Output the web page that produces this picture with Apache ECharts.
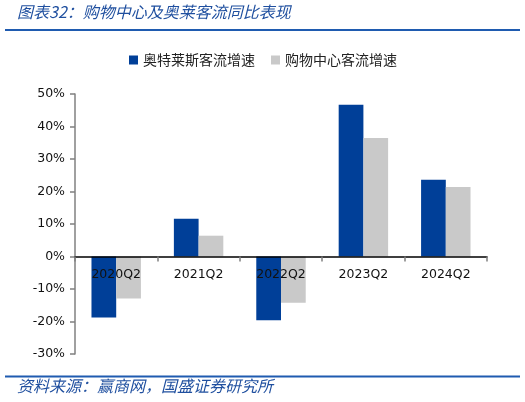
<!DOCTYPE html>
<html>
<head>
<meta charset="utf-8">
<script src="https://cdn.jsdelivr.net/npm/echarts@6/dist/echarts.min.js"></script>
<style>
html,body{margin:0;padding:0;background:#fff;}
#c{width:525px;height:402px;}
</style>
</head>
<body>
<div id="c"></div>
<script>
const categories = ['2020Q2','2021Q2','2022Q2','2023Q2','2024Q2'];
const outletName = '奥特莱斯客流增速';
const mallName = '购物中心客流增速';
const outletValues = [-18.8, 11.6, -19.6, 46.7, 23.6];
const mallValues = [-12.9, 6.4, -14.2, 36.5, 21.4];
const yTicks = [-30, -20, -10, 0, 10, 20, 30, 40, 50];
const titleText = '图表32：购物中心及奥莱客流同比表现';
const sourceText = '资料来源：赢商网，国盛证券研究所';

const gridTop = 94, gridBottom = 48, H = 402;
const gridH = H - gridTop - gridBottom;
const yMin = yTicks[0], yMax = yTicks[yTicks.length-1];
const zeroOffset = -((0 - yMin) / (yMax - yMin)) * gridH;

const chart = echarts.init(document.getElementById('c'), null, {renderer:'canvas'});
const axisFont = 'DejaVu Sans';
chart.setOption({
  animation:false,
  backgroundColor:'#fff',
  legend:{
    top:48, left:124,
    itemWidth:9, itemHeight:9, itemGap:16,
    icon:'rect',
    textStyle:{fontFamily:'Noto Sans CJK SC', fontSize:14, color:'#222'},
    data:[outletName, mallName]
  },
  grid:{left:75, right:38, top:gridTop, bottom:gridBottom, containLabel:false},
  xAxis:{
    type:'category',
    data:categories,
    offset:zeroOffset,
    axisLine:{onZero:false, lineStyle:{color:'#000', width:1.5}},
    axisTick:{show:true, length:5, lineStyle:{color:'#808080', width:1.5}},
    axisLabel:{fontFamily:axisFont, fontSize:12.5, color:'#111', margin:12},
    splitLine:{show:false},
    z:5
  },
  yAxis:{
    type:'value',
    min:yMin, max:yMax, interval:10,
    axisLine:{show:true, lineStyle:{color:'#808080', width:1.5}},
    axisTick:{show:true, length:5, lineStyle:{color:'#808080', width:1.5}},
    axisLabel:{fontFamily:axisFont, fontSize:12.5, color:'#111', margin:10, formatter:'{value}%'},
    splitLine:{show:false}
  },
  series:[
    {name:outletName, type:'bar', data:outletValues, barGap:'0%', barCategoryGap:'40%',
     itemStyle:{color:'#003f98'}},
    {name:mallName, type:'bar', data:mallValues, barGap:'0%', barCategoryGap:'40%',
     itemStyle:{color:'#c9c9c9'}}
  ],
  graphic:[
    {type:'text', left:17, top:4, style:{text:titleText, fill:'#1f4f9f', font:'italic 16px "Noto Sans CJK SC"'}},
    {type:'rect', shape:{x:5, y:29, width:515, height:2}, style:{fill:'#1f5bb0'}},
    {type:'rect', shape:{x:5, y:375.5, width:515, height:2}, style:{fill:'#1f5bb0'}},
    {type:'text', left:17, top:378, style:{text:sourceText, fill:'#1f4f9f', font:'italic 16px "Noto Sans CJK SC"'}}
  ]
});
</script>
</body>
</html>
